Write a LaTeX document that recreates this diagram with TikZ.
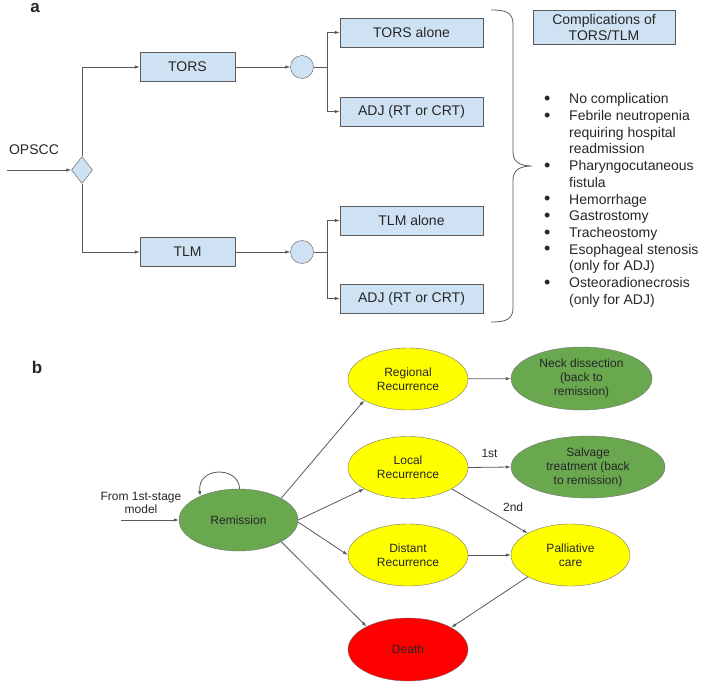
\documentclass[tikz,border=0pt]{standalone}
\usepackage{fontspec}
\setmainfont{Liberation Sans}
\usetikzlibrary{shapes.geometric,arrows.meta}
\definecolor{boxblue}{HTML}{CFE2F3}
\definecolor{edgegray}{HTML}{595959}
\definecolor{remgreen}{HTML}{6AA84F}
\definecolor{recyellow}{HTML}{FFFF00}
\definecolor{deathred}{HTML}{FF0000}
\tikzset{
  tbox/.style={draw=edgegray, fill=boxblue, minimum width=95pt, minimum height=29pt, inner sep=0pt},
  wbox/.style={tbox, minimum width=143pt},
  chance/.style={circle, draw=edgegray, fill=boxblue, minimum size=23pt, inner sep=0pt},
  stnode/.style={ellipse, draw=black!55, minimum width=120pt, minimum height=62pt, inner sep=0pt, align=center, font=\fontsize{12}{14}\selectfont},
  conn/.style={draw=edgegray, line width=0.8pt},
  panel/.style={font=\fontsize{17}{19}\selectfont\bfseries},
}
\newcommand{\blt}{\makebox[25pt][l]{\raisebox{-0.6pt}{\fontsize{18}{18}\selectfont\textbullet}}}
\begin{document}
\begin{tikzpicture}[x=1pt, y=-1pt, >={Latex[length=5pt,width=3.5pt]}, font=\fontsize{14}{16.7}\selectfont, text=black!85]
\useasboundingbox (0,0) rectangle (709,685);
% a
\node[panel] (lbla) at (35,8) {a};
\node (opscc) at (34,150) {OPSCC};
\coordinate (inA) at (7,170);
\node[diamond, draw=edgegray, fill=boxblue, minimum width=21pt, minimum height=27pt, inner sep=0pt] (dia) at (82,170) {};
\node[tbox] (tors) at (187.5,67) {TORS};
\node[tbox] (tlm) at (187.5,252) {TLM};
\node[chance] (c1) at (302,67) {};
\node[chance] (c2) at (302,252) {};
\coordinate (br1) at (327,67);
\coordinate (br2) at (327,252);
\node[wbox] (torsal) at (411.5,32.5) {TORS alone};
\node[wbox] (adj1) at (411.5,111.5) {ADJ (RT or CRT)};
\node[wbox] (tlmal) at (411.5,220.5) {TLM alone};
\node[wbox] (adj2) at (411.5,298.5) {ADJ (RT or CRT)};
\node[tbox, minimum width=142pt, minimum height=34pt, align=center, font=\fontsize{14}{16}\selectfont] (compl) at (604,27) {Complications of\\TORS/TLM};
\draw[conn,->] (inA) -- (dia.west);
\draw[conn,->] (dia.north) |- (tors.west);
\draw[conn,->] (dia.south) |- (tlm.west);
\draw[conn,->] (tors) -- (c1);
\draw[conn,->] (tlm) -- (c2);
\draw[conn] (c1) -- (br1);
\draw[conn] (c2) -- (br2);
\draw[conn,->] (br1) |- (torsal.west);
\draw[conn,->] (br1) |- (adj1.west);
\draw[conn,->] (br2) |- (tlmal.west);
\draw[conn,->] (br2) |- (adj2.west);
\draw[conn] (491,10) .. controls (505,10) and (513,12) .. (513,24) -- (513,152)
  .. controls (513,162) and (520,166) .. (532,166)
  .. controls (520,166) and (513,170) .. (513,180) -- (513,308)
  .. controls (513,320) and (505,322) .. (491,322);
\node[anchor=north west, inner sep=0pt] (cmplist) at (544,92) {%
  \begin{tabular}{@{}l@{}l@{}}
  \blt & No complication\\
  \blt & Febrile neutropenia\\
       & requiring hospital\\
       & readmission\\
  \blt & Pharyngocutaneous\\
       & fistula\\
  \blt & Hemorrhage\\
  \blt & Gastrostomy\\
  \blt & Tracheostomy\\
  \blt & Esophageal stenosis\\
       & (only for ADJ)\\
  \blt & Osteoradionecrosis\\
       & (only for ADJ)
  \end{tabular}};
% b
\node[panel] (lblb) at (37,367) {b};
\node[align=center, font=\fontsize{12}{13.5}\selectfont] (from) at (141,503) {From 1st-stage\\model};
\coordinate (inB) at (121,520);
\node[stnode, fill=remgreen, minimum width=119pt] (rem) at (238.5,520) {Remission};
\node[stnode, fill=recyellow] (reg) at (408,379) {Regional\\Recurrence};
\node[stnode, fill=recyellow] (loc) at (408,467.5) {Local\\Recurrence};
\node[stnode, fill=recyellow] (dist) at (408,555) {Distant\\Recurrence};
\node[stnode, fill=deathred, minimum height=63pt] (death) at (408,649.5) {Death};
\node[stnode, fill=remgreen, minimum width=141pt, minimum height=63pt] (neck) at (581.5,378.5) {Neck dissection\\(back to\\remission)};
\node[stnode, fill=remgreen, minimum width=154pt] (salv) at (588,467) {Salvage\\treatment (back\\to remission)};
\node[stnode, fill=recyellow, minimum width=119pt] (pall) at (570.5,555) {Palliative\\care};
\draw[conn,->] (inB) -- (rem.west);
\draw[conn,->] (rem.88) .. controls (239,466) and (197,466) .. (rem.148);
\draw[conn,->] (rem.27) -- (reg.206);
\draw[conn,->] (rem.0) -- (loc.206);
\draw[conn,->] (rem.-2) -- (dist.west);
\draw[conn,->] (rem.-27) -- (death.151);
\draw[conn,->] (reg) -- (neck);
\draw[conn,->] (loc.east) -- node[above=6pt, font=\fontsize{12}{14}\selectfont] (lbl1st) {1st} (salv.west);
\draw[conn,->] (loc.-26) -- node[pos=0.6, anchor=south west, xshift=2pt, font=\fontsize{12}{14}\selectfont] (lbl2nd) {2nd} (pall.153);
\draw[conn,->] (dist) -- (pall);
\draw[conn,->] (pall.207) -- (death.27);
\end{tikzpicture}
\end{document}
